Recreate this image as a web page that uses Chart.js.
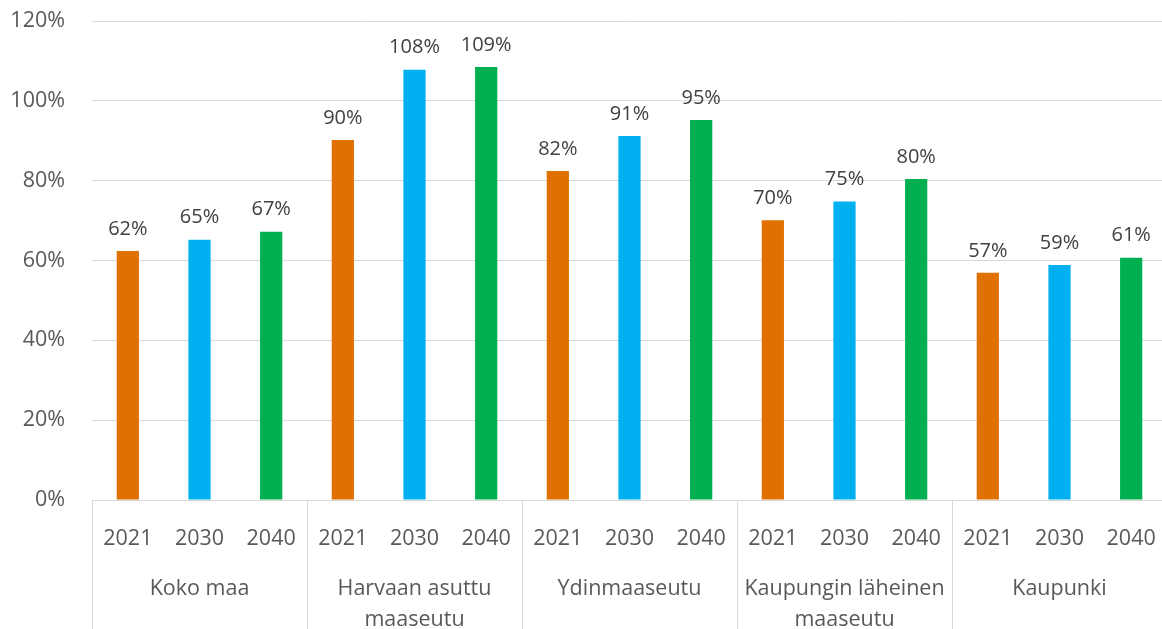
<!DOCTYPE html>
<html>
<head>
<meta charset="utf-8">
<script src="https://cdn.jsdelivr.net/npm/chart.js@4"></script>
<style>
html,body{margin:0;padding:0;background:#fff;overflow:hidden;}
#wrap{width:1167px;height:629px;position:relative;}
</style>
</head>
<body>
<div id="wrap"><canvas id="c"></canvas></div>
<script>
const groups = [["Koko maa"], ["Harvaan asuttu", "maaseutu"], ["Ydinmaaseutu"], ["Kaupungin läheinen", "maaseutu"], ["Kaupunki"]];
const years = ["2021", "2030", "2040"];
const yearColors = ["#E07000", "#00B0F0", "#00B050"];
const values = [62.4, 65.2, 67.2, 90.2, 107.8, 108.5, 82.4, 91.2, 95.2, 70.1, 74.8, 80.4, 56.9, 58.9, 60.7];
const yTicks = [0, 20, 40, 60, 80, 100, 120];

const FONT = "'Open Sans', 'Noto Sans', sans-serif";
const labels = [];
const colors = [];
groups.forEach(() => years.forEach((y, i) => { labels.push(y); colors.push(yearColors[i]); }));

const groupPlugin = {
  id: 'groups',
  afterDraw(chart) {
    const ctx = chart.ctx;
    const x = chart.scales.x;
    const area = chart.chartArea;
    const n = years.length;
    const step = (area.right - area.left) / labels.length;
    ctx.save();
    ctx.strokeStyle = '#d9d9d9';
    ctx.lineWidth = 1;
    for (let g = 0; g <= groups.length; g++) {
      const px = Math.round(area.left + g * n * step) + 0.5;
      ctx.beginPath();
      ctx.moveTo(px, area.bottom);
      ctx.lineTo(px, chart.height);
      ctx.stroke();
    }
    ctx.fillStyle = '#595959';
    ctx.font = '21.5px ' + FONT;
    ctx.textAlign = 'center';
    ctx.textBaseline = 'middle';
    groups.forEach((lines, g) => {
      const cx = (x.getPixelForValue(g * n) + x.getPixelForValue(g * n + n - 1)) / 2;
      lines.forEach((t, k) => ctx.fillText(t, cx, 589 + k * 31));
    });
    // data labels
    const meta = chart.getDatasetMeta(0);
    ctx.fillStyle = '#404040';
    ctx.font = '20px ' + FONT;
    ctx.textBaseline = 'bottom';
    meta.data.forEach((bar, i) => {
      ctx.fillText(Math.round(values[i]) + '%', bar.x, bar.y - 12);
    });
    ctx.restore();
  }
};

new Chart(document.getElementById('c'), {
  type: 'bar',
  data: {
    labels: labels,
    datasets: [{
      data: values,
      backgroundColor: colors,
      barPercentage: 0.62,
      categoryPercentage: 0.5
    }]
  },
  options: {
    responsive: true,
    maintainAspectRatio: false,
    animation: false,
    layout: { padding: { top: 21, right: 0, left: 0, bottom: 0 } },
    plugins: { legend: { display: false }, tooltip: { enabled: false } },
    scales: {
      x: {
        grid: { display: false, drawTicks: false },
        border: { display: false },
        ticks: { color: '#595959', font: { family: FONT, size: 21.5 }, padding: 26, maxRotation: 0, autoSkip: false },
        afterFit: s => { s.height = 129; s.paddingLeft = 0; s.paddingRight = 0; }
      },
      y: {
        min: 0, max: 120,
        afterBuildTicks: s => { s.ticks = yTicks.map(v => ({ value: v })); },
        grid: { color: '#d9d9d9', drawTicks: false, lineWidth: 1 },
        border: { display: false },
        ticks: { color: '#595959', font: { family: FONT, size: 21.5 }, padding: 27, callback: v => v + '%' },
        afterFit: s => { s.width = 92; s.paddingTop = 0; s.paddingBottom = 0; }
      }
    }
  },
  plugins: [groupPlugin]
});
</script>
</body>
</html>
